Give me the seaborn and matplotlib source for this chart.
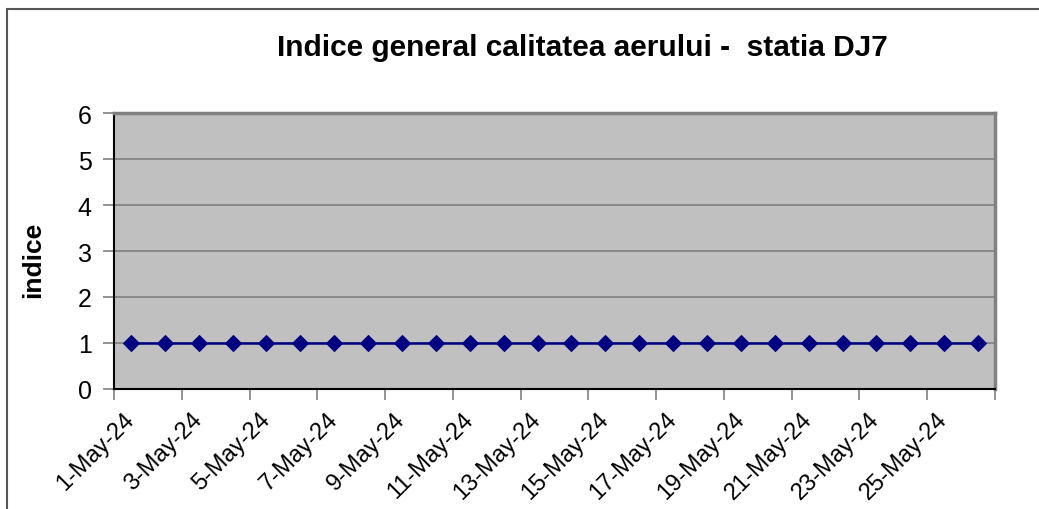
import matplotlib
matplotlib.use("Agg")
import matplotlib.pyplot as plt
import matplotlib.transforms as mtransforms
from matplotlib.patches import Rectangle
import seaborn as sns
import pandas as pd
import numpy as np

days = [f"{d}-May-24" for d in range(1, 27)]
values = [1] * 26
yticks = [0, 1, 2, 3, 4, 5, 6]
title = "Indice general calitatea aerului -  statia DJ7"
ylabel = "indice"

sns.set_theme(style="white")
plt.rcParams['font.family'] = ['Liberation Sans', 'DejaVu Sans']
plt.rcParams['text.color'] = 'black'
plt.rcParams['xtick.color'] = 'black'
plt.rcParams['ytick.color'] = 'black'
plt.rcParams['axes.labelcolor'] = 'black'

df = pd.DataFrame({"day": days, "value": values})
df["pos"] = np.arange(len(days)) + 0.5

W, H = 1039, 510
fig = plt.figure(figsize=(W / 100, H / 100), dpi=100)
fig.patch.set_facecolor("white")
ax = fig.add_axes([114 / W, 1 - 390 / H, (995 - 114) / W, (390 - 114) / H])
ax.set_facecolor("#c0c0c0")

sns.lineplot(data=df, x="pos", y="value", ax=ax, color="#000080", linewidth=1.8,
             marker="D", markersize=8, markeredgecolor="#000080", markerfacecolor="#000080")

ax.set_xlim(0, len(days))
ax.set_ylim(0, 6)
ax.set_yticks(yticks)
ax.set_yticklabels([str(t) for t in yticks], fontsize=18)
ax.yaxis.grid(True, color="#808080", linewidth=1.2)
ax.xaxis.grid(False)
ax.set_axisbelow(True)

ticks = list(range(0, len(days) + 1, 2))
ax.set_xticks(ticks)
ax.set_xticklabels([""] * len(ticks))
offset = mtransforms.ScaledTranslation(9 / 100, -19 / 100, fig.dpi_scale_trans)
for t in ticks:
    if t < len(days):
        ax.text(t, 0, days[t], transform=ax.get_xaxis_transform() + offset,
                rotation=45, ha="right", va="top", rotation_mode="anchor",
                fontsize=17, color="black")

ax.tick_params(axis="y", length=8, width=1.2, color="#808080", pad=8, left=True,
               labelcolor="black")
ax.tick_params(axis="x", length=8, width=1.2, color="#808080", bottom=True, pad=0)

for s in ["left", "bottom"]:
    ax.spines[s].set_color("black")
    ax.spines[s].set_linewidth(1.5)
for s in ["top", "right"]:
    ax.spines[s].set_color("#808080")
    ax.spines[s].set_linewidth(2.5)

ax.set_xlabel("")
ax.set_ylabel(ylabel, fontsize=19, fontweight="bold", color="black")
ax.yaxis.set_label_coords(-(114 - 33) / (995 - 114), (390 - 260) / (390 - 114))
ax.yaxis.label.set_va("center")

fig.text(582 / W, 1 - 48 / H, title, ha="center", va="center", fontsize=21.5,
         fontweight="bold", color="black")

frame = Rectangle((7 / W, -0.1), 1.2, 1 - 10 / H + 0.1, transform=fig.transFigure,
                  fill=False, edgecolor="#555555", linewidth=1.5)
fig.patches.append(frame)

fig.savefig("out.png", dpi=100)
